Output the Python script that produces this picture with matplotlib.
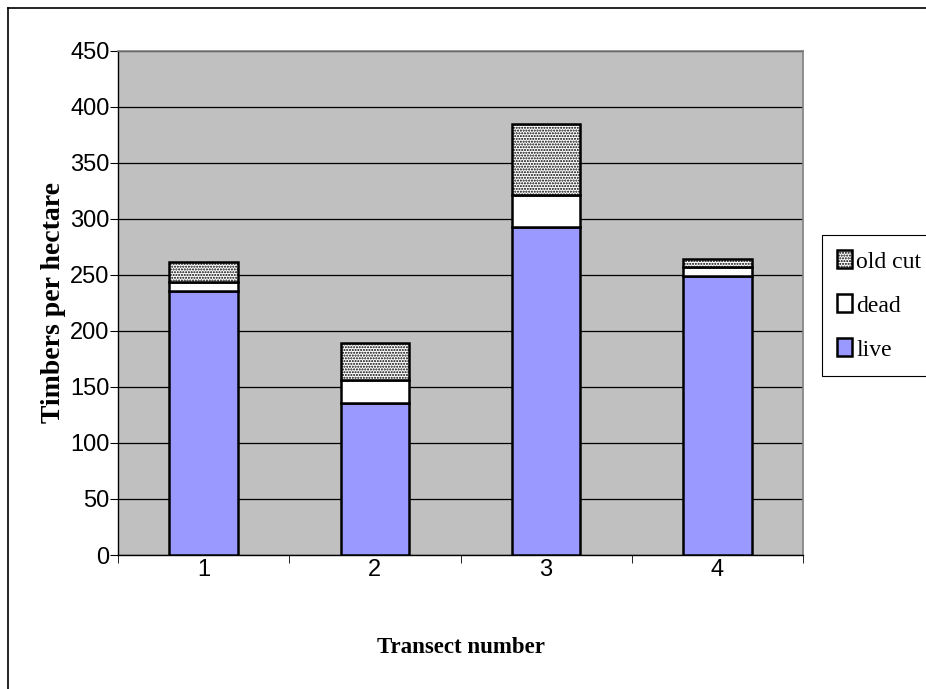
import matplotlib.pyplot as plt
import numpy as np
from matplotlib.lines import Line2D

# timber counts per transect, stacked live / dead / old cut
transects = ['1', '2', '3', '4']
live = [236, 136, 293, 249]
dead = [8, 20, 28, 8]
old_cut = [18, 33, 64, 7]

plt.rcParams['hatch.color'] = '#808080'
plt.rcParams['hatch.linewidth'] = 1.0

fig = plt.figure(figsize=(9.26, 6.89), dpi=100)
ax = fig.add_axes([118 / 926, 1 - 555 / 689, (803 - 118) / 926, (555 - 51) / 689])
ax.set_facecolor('#c0c0c0')

x = np.arange(1, len(transects) + 1)
w = 0.4
ax.bar(x, live, w, color='#9999ff', edgecolor='black', linewidth=1.8, label='live', zorder=3)
ax.bar(x, dead, w, bottom=live, color='white', edgecolor='black', linewidth=1.8, label='dead', zorder=3)
bottom2 = [a + b for a, b in zip(live, dead)]
ax.bar(x, old_cut, w, bottom=bottom2, color='white', edgecolor='black', hatch='......',
       linewidth=1.8, label='old cut', zorder=3)

ax.set_xlim(0.5, 4.5)
ax.set_ylim(0, 450)
ax.set_yticks(range(0, 451, 50))
ax.set_xticks(x)
ax.set_xticklabels(transects)
ax.set_xticks(np.arange(0.5, 4.6, 1), minor=True)
ax.tick_params(axis='x', which='major', length=0, pad=3)
ax.tick_params(axis='x', which='minor', length=6, direction='out', color='black')
ax.tick_params(axis='y', length=6, direction='out', color='black', pad=0)
for lab in ax.get_xticklabels() + ax.get_yticklabels():
    lab.set_fontfamily('Liberation Sans')
    lab.set_fontsize(17)

ax.grid(axis='y', color='black', linewidth=0.9, zorder=1)
ax.set_axisbelow(True)
for side in ['top', 'right']:
    ax.spines[side].set_color('#808080')
    ax.spines[side].set_linewidth(1.2)
for side in ['left', 'bottom']:
    ax.spines[side].set_color('black')
    ax.spines[side].set_linewidth(1.0)

ax.set_xlabel('Transect number', fontfamily='Liberation Serif', fontweight='bold',
              fontsize=16.5, labelpad=40)
ax.set_ylabel('Timbers per hectare', fontfamily='Liberation Serif', fontweight='bold',
              fontsize=20, labelpad=3)

handles, labels = ax.get_legend_handles_labels()
leg = fig.legend(handles[::-1], labels[::-1], loc='upper left',
                 bbox_to_anchor=(822 / 926, 1 - 235 / 689), bbox_transform=fig.transFigure,
                 prop={'family': 'Liberation Serif', 'size': 17},
                 frameon=True, fancybox=False, edgecolor='black', framealpha=1,
                 handlelength=0.6, handleheight=0.8, handletextpad=0.2,
                 labelspacing=0.92, borderpad=0.65, borderaxespad=0)
leg.get_frame().set_linewidth(0.8)

# outer chart frame
fig.add_artist(Line2D([8 / 926, 1], [1 - 8 / 689, 1 - 8 / 689], color='black', linewidth=1.2))
fig.add_artist(Line2D([8 / 926, 8 / 926], [0, 1 - 8 / 689], color='black', linewidth=1.2))

fig.savefig('out.png', dpi=100)
